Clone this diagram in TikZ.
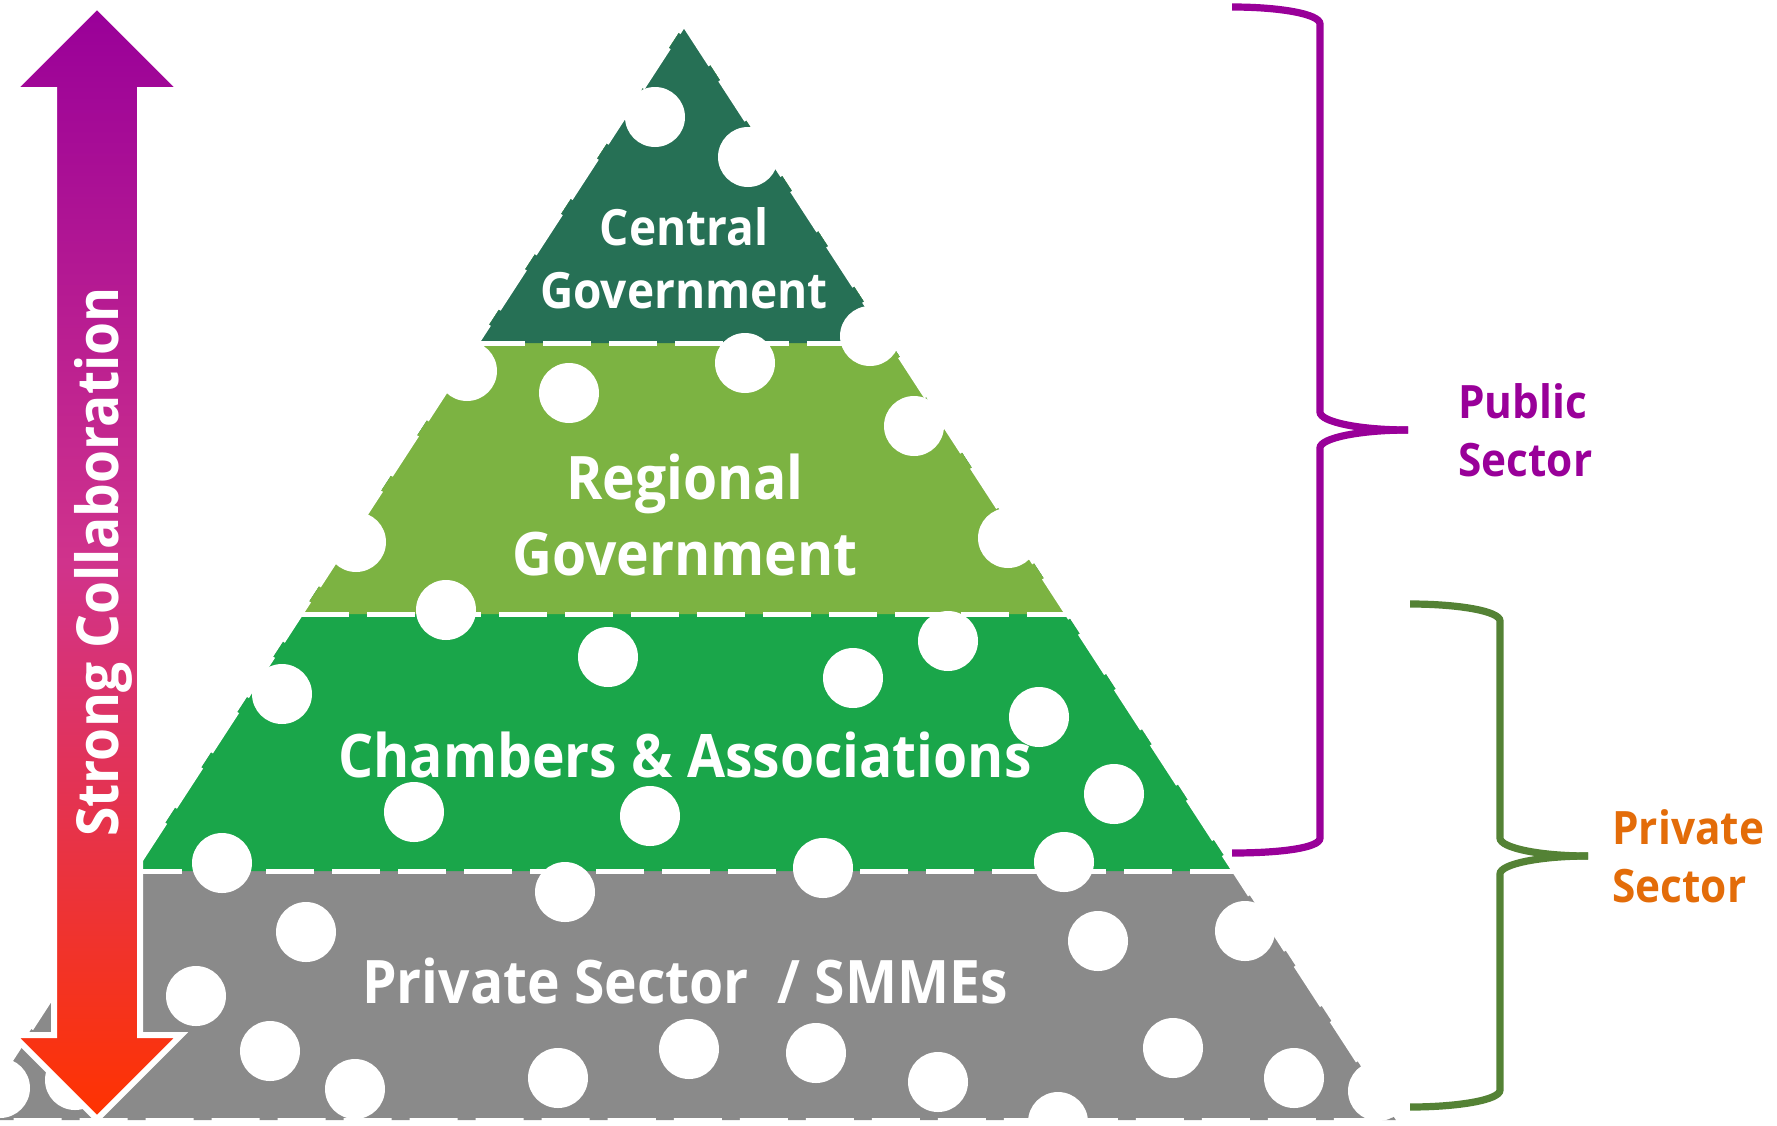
\documentclass[tikz,border=0pt]{standalone}
\usepackage{fontspec}
\setmainfont{Open Sans}
\newfontfamily\pyrfont{Open Sans}[FakeStretch=0.92]
\usepackage{tikz}
\usetikzlibrary{calc,positioning}
\definecolor{cgov}{HTML}{267055}
\definecolor{rgov}{HTML}{7CB342}
\definecolor{chamb}{HTML}{1AA64A}
\definecolor{smme}{HTML}{8A8A8A}
\definecolor{pubpurple}{HTML}{990099}
\definecolor{privgreen}{HTML}{548235}
\definecolor{privorange}{HTML}{E36C09}
\definecolor{arrowtop}{HTML}{990099}
\definecolor{arrowmid}{HTML}{D0338C}
\definecolor{arrowbot}{HTML}{FF3300}
\tikzstyle{sep}    = [white, line width=2.5pt, dash pattern=on 24pt off 9pt]
\tikzstyle{rim}    = [white, line width=2pt, dash pattern=on 24pt off 9pt]
\tikzstyle{hole}   = [fill=white]
\tikzstyle{lvl}    = [text=white, inner sep=0pt, align=center]
\tikzstyle{sector} = [inner sep=0pt, align=left]
\tikzstyle{brace}  = [line width=3.6pt, line cap=butt]

\begin{document}
\begin{tikzpicture}[x=0.5pt, y=-0.5pt]
	\clip (0,0) rectangle (1777,1125);

	% pyramid corners
	\coordinate (apex) at (684,25);
	\coordinate (bl) at (-27.75,1120);
	\coordinate (br) at (1395.75,1120);
	\coordinate (c1l) at (477.3,343);   \coordinate (c1r) at (890.7,343);
	\coordinate (c2l) at (301.15,614);  \coordinate (c2r) at (1066.85,614);
	\coordinate (c3l) at (134.1,871);   \coordinate (c3r) at (1233.9,871);

	\fill[smme]  (apex) -- (br) -- (bl) -- cycle;
	\fill[chamb] (apex) -- (c3r) -- (c3l) -- cycle;
	\fill[rgov]  (apex) -- (c2r) -- (c2l) -- cycle;
	\fill[cgov]  (apex) -- (c1r) -- (c1l) -- cycle;

	\draw[sep] (c1l) -- (c1r);
	\draw[sep] (c2l) -- (c2r);
	\draw[sep] (c3l) -- (c3r);
	\draw[rim] (apex) -- (br) -- (bl) -- cycle;

	% dots
	\foreach \x/\y in {655/117, 748/157, 870/336, 745/363, 569/393, 467/371,
		914/426, 356/542, 1008/538, 446/610, 608/657, 948/641, 853/678,
		282/694, 1039/717, 414/812, 650/816, 1114/794, 222/863, 823/868,
		1064/862, 565/892, 306/932, 1098/941, 1245/931, 196/996, 270/1051,
		355/1089, 558/1078, 689/1049, 816/1053, 938/1082, 1173/1048,
		1294/1078, 1378/1091, 1058/1122, 0/1088, 75/1080}
		\fill[hole] (\x,\y) circle[radius=15pt];

	\node[lvl, font=\pyrfont\bfseries\fontsize{25}{31.5}\selectfont] (central) at (684,258.5) {Central\\Government};
	\node[lvl, font=\pyrfont\bfseries\fontsize{30}{38}\selectfont] (regional) at (685,515) {Regional\\Government};
	\node[lvl, anchor=base, font=\pyrfont\bfseries\fontsize{30}{38}\selectfont] (chambers) at (685,777) {Chambers \& Associations};
	\node[lvl, anchor=base, font=\pyrfont\bfseries\fontsize{30}{38}\selectfont] (smmes) at (685,1003) {Private Sector\ \ / SMMEs};

	% double arrow
	\path[draw=white, line width=3pt, top color=arrowtop, bottom color=arrowbot, middle color=arrowmid]
		(97,6) -- (181,90) -- (140,90) -- (140,1035) -- (181,1035) -- (97,1119)
		-- (13,1035) -- (54,1035) -- (54,90) -- (13,90) -- cycle;
	\node[lvl, rotate=90, anchor=base, font=\pyrfont\bfseries\fontsize{29}{34}\selectfont] (collab) at (118,562) {Strong Collaboration};

	% braces
	\coordinate (pubtip) at (1408,430);
	\coordinate (privtip) at (1588,856);
	\draw[brace, pubpurple] (1232,7) .. controls (1280,7) and (1320,14) .. (1320,24)
		-- (1320,412) .. controls (1320,422) and (1360,430) .. (pubtip);
	\draw[brace, pubpurple] (pubtip) .. controls (1360,430) and (1320,438) .. (1320,448)
		-- (1320,838) .. controls (1320,848) and (1280,853) .. (1232,853);
	\draw[brace, privgreen] (1410,604) .. controls (1458,604) and (1500,611) .. (1500,621)
		-- (1500,838) .. controls (1500,848) and (1540,856) .. (privtip);
	\draw[brace, privgreen] (privtip) .. controls (1540,856) and (1500,864) .. (1500,874)
		-- (1500,1090) .. controls (1500,1100) and (1458,1107) .. (1410,1107);

	\node[sector, right=25pt of pubtip, text=pubpurple, font=\pyrfont\bfseries\fontsize{23}{28.75}\selectfont] (public) {Public\\Sector};
	\node[sector, right=12pt of privtip, text=privorange, font=\pyrfont\bfseries\fontsize{23}{28.75}\selectfont] (private) {Private\\Sector};
\end{tikzpicture}
\end{document}
